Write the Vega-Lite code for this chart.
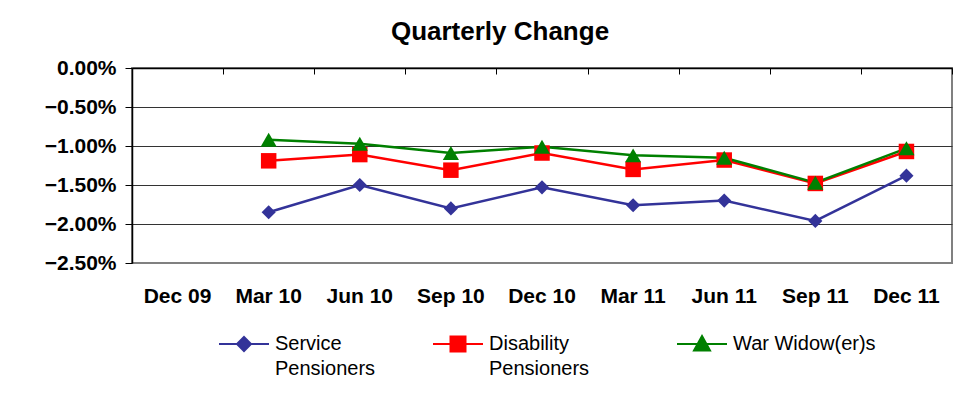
{
  "$schema": "https://vega.github.io/schema/vega-lite/v6.json",
  "width": 820,
  "height": 195,
  "autosize": {"type": "none"},
  "padding": {"left": 132, "top": 68, "right": 19, "bottom": 145},
  "background": "white",
  "config": {
    "view": {"stroke": "#808080", "strokeWidth": 2},
    "font": "Liberation Sans"
  },
  "title": {
    "text": "Quarterly Change",
    "font": "Liberation Sans",
    "fontSize": 26,
    "fontWeight": "bold",
    "color": "black",
    "anchor": "middle",
    "frame": "group",
    "dx": -42,
    "offset": 12
  },
  "data": {
    "values": [
      {"q": "Mar 10", "series": "Service Pensioners", "v": -0.0185},
      {"q": "Jun 10", "series": "Service Pensioners", "v": -0.0150},
      {"q": "Sep 10", "series": "Service Pensioners", "v": -0.0180},
      {"q": "Dec 10", "series": "Service Pensioners", "v": -0.0153},
      {"q": "Mar 11", "series": "Service Pensioners", "v": -0.0176},
      {"q": "Jun 11", "series": "Service Pensioners", "v": -0.0170},
      {"q": "Sep 11", "series": "Service Pensioners", "v": -0.0196},
      {"q": "Dec 11", "series": "Service Pensioners", "v": -0.0138},
      {"q": "Mar 10", "series": "Disability Pensioners", "v": -0.0119},
      {"q": "Jun 10", "series": "Disability Pensioners", "v": -0.0111},
      {"q": "Sep 10", "series": "Disability Pensioners", "v": -0.0131},
      {"q": "Dec 10", "series": "Disability Pensioners", "v": -0.0109},
      {"q": "Mar 11", "series": "Disability Pensioners", "v": -0.0130},
      {"q": "Jun 11", "series": "Disability Pensioners", "v": -0.0118},
      {"q": "Sep 11", "series": "Disability Pensioners", "v": -0.0148},
      {"q": "Dec 11", "series": "Disability Pensioners", "v": -0.0107},
      {"q": "Mar 10", "series": "War Widow(er)s", "v": -0.0092},
      {"q": "Jun 10", "series": "War Widow(er)s", "v": -0.0097},
      {"q": "Sep 10", "series": "War Widow(er)s", "v": -0.0109},
      {"q": "Dec 10", "series": "War Widow(er)s", "v": -0.0101},
      {"q": "Mar 11", "series": "War Widow(er)s", "v": -0.0112},
      {"q": "Jun 11", "series": "War Widow(er)s", "v": -0.0115},
      {"q": "Sep 11", "series": "War Widow(er)s", "v": -0.0147},
      {"q": "Dec 11", "series": "War Widow(er)s", "v": -0.0103}
    ]
  },
  "encoding": {
    "color": {
      "field": "series",
      "type": "nominal",
      "scale": {
        "domain": ["Service Pensioners", "Disability Pensioners", "War Widow(er)s"],
        "range": ["#333399", "#FF0000", "#008000"]
      },
      "legend": {
        "title": null,
        "orient": "none",
        "legendX": 86,
        "legendY": 250,
        "direction": "horizontal",
        "columns": 3,
        "padding": 0,
        "columnPadding": 53,
        "symbolSize": 2500,
        "symbolStrokeWidth": 2,
        "labelFont": "Liberation Sans",
        "labelFontSize": 20,
        "labelColor": "black",
        "labelOffset": 5,
        "labelLimit": 400,
        "labelBaseline": "middle",
        "labelExpr": "datum.label == 'War Widow(er)s' ? ['War Widow(er)s', ''] : datum.label == 'Disability Pensioners' ? ['Disability', 'Pensioners\u2800\u2800'] : ['Service', 'Pensioners']",
        "encode": {
          "symbols": {
            "update": {
              "shape": {"signal": "datum.value == 'Service Pensioners' ? 'M-1,0H1M0,-0.28L0.28,0L0,0.28L-0.28,0Z' : datum.value == 'Disability Pensioners' ? 'M-1,0H1M-0.3,-0.3H0.3V0.3H-0.3Z' : 'M-1,0H1M0,-0.32L0.32,0.26H-0.32Z'"},
              "fill": {"signal": "scale('color', datum.value)"},
              "stroke": {"signal": "scale('color', datum.value)"},
              "strokeWidth": {"value": 2},
              "opacity": {"value": 1}
            }
          },
          "labels": {
            "update": {
              "lineHeight": {"value": 25}
            }
          }
        }
      }
    },
    "y": {
      "field": "v",
      "type": "quantitative",
      "scale": {"domain": [-0.025, 0], "nice": false, "zero": false},
      "axis": {
        "title": null,
        "values": [0, -0.005, -0.01, -0.015, -0.02, -0.025],
        "format": ".2%",
        "domainColor": "black",
        "domainWidth": 1.5,
        "tickColor": "black",
        "tickSize": 7,
        "labelPadding": 9,
        "labelFont": "Liberation Sans",
        "labelFontSize": 21,
        "labelFontWeight": "bold",
        "labelColor": "black",
        "grid": true,
        "gridColor": "#333333",
        "gridWidth": 1,
        "gridOpacity": {"condition": {"test": "datum.value < -0.0249", "value": 0}, "value": 1}
      }
    }
  },
  "layer": [
    {
      "mark": {"type": "line", "strokeWidth": 2.5},
      "encoding": {
        "x": {
          "field": "q",
          "type": "ordinal",
          "scale": {
            "type": "band",
            "domain": ["Dec 09", "Mar 10", "Jun 10", "Sep 10", "Dec 10", "Mar 11", "Jun 11", "Sep 11", "Dec 11"],
            "paddingInner": 0,
            "paddingOuter": 0
          },
          "axis": {
            "orient": "bottom",
            "title": null,
            "domain": false,
            "ticks": false,
            "grid": false,
            "labelAngle": 0,
            "labelFont": "Liberation Sans",
            "labelFontSize": 21,
            "labelFontWeight": "bold",
            "labelColor": "black",
            "labelPadding": 22
          }
        }
      }
    },
    {
      "encoding": {
        "x": {
          "field": "q",
          "type": "ordinal",
          "axis": {
            "orient": "top",
            "title": null,
            "labels": false,
            "domain": true,
            "domainColor": "black",
            "domainWidth": 1.5,
            "ticks": true,
            "tickColor": "black",
            "tickSize": -6,
            "tickBand": "extent",
            "grid": false
          }
        }
      },
      "layer": [
        {
          "transform": [{"filter": "datum.series == 'Service Pensioners'"}],
          "mark": {"type": "point", "shape": "diamond", "filled": true, "opacity": 1, "size": 200}
        },
        {
          "transform": [{"filter": "datum.series == 'Disability Pensioners'"}],
          "mark": {"type": "point", "shape": "square", "filled": true, "opacity": 1, "size": 240}
        },
        {
          "transform": [{"filter": "datum.series == 'War Widow(er)s'"}],
          "mark": {"type": "point", "shape": "triangle-up", "filled": true, "opacity": 1, "size": 260}
        }
      ]
    }
  ],
  "resolve": {"axis": {"x": "independent"}}
}
